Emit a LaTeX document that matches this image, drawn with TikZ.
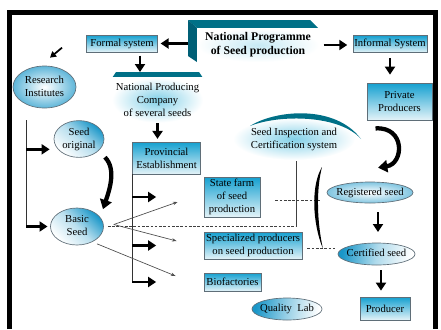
\documentclass[tikz,border=0pt]{standalone}
\usepackage{fontspec}
\setmainfont{Liberation Serif}
\usetikzlibrary{arrows.meta,shapes.geometric,calc}

\definecolor{boxtop}{RGB}{20,160,208}
\definecolor{boxbot}{RGB}{228,243,248}
\definecolor{ovalcol}{RGB}{25,150,200}
\definecolor{darkteal}{RGB}{0,112,135}
\definecolor{sideteal}{RGB}{0,95,118}
\definecolor{edgegray}{RGB}{95,110,120}
\definecolor{glowcol}{RGB}{130,208,232}

\newcommand{\ovtxt}[1]{\makebox[0pt]{\begin{tabular}{@{}c@{}}#1\end{tabular}}}

\tikzset{every picture/.style={line width=0.75pt}}
\tikzset{
  box/.style={draw=edgegray, line width=0.6pt, top color=boxtop, bottom color=boxbot,
    inner sep=0pt, align=center, font=\fontsize{8}{9.75}\selectfont},
  oval/.style={ellipse, draw=edgegray, line width=0.5pt, inner color=white, outer color=ovalcol!70,
    inner sep=0pt, font=\fontsize{8}{9.75}\selectfont},
  ovaltilt/.style={top color=ovalcol, bottom color=white, middle color=ovalcol!30, shading angle=#1},
  glow/.style={inner sep=0pt, inner color=glowcol, outer color=white, align=center,
    font=\fontsize{8}{9.75}\selectfont},
  bigarrow/.style={line width=1.9pt, -{Triangle[length=6pt,width=7.5pt]}},
  swirl/.style={line width=3.2pt, -{Triangle[length=7pt,width=9pt]}},
  thinarrow/.style={draw=black!70, line width=0.5pt, -{Stealth[length=3.5pt,width=2.5pt]}},
  dashline/.style={dash pattern=on 2pt off 1.2pt, line width=0.7pt, draw=black!75},
}

\begin{document}
\begin{tikzpicture}[x=0.75pt,y=0.75pt,yscale=-1,xscale=1]
\useasboundingbox (0,0) rectangle (441,329);

%Frame
\draw [line width=3.5pt] (9.5,329) -- (9.5,12.5) -- (435.5,12.5) -- (435.5,329) ;

%Shape: Box 3D [National Programme]
\fill [darkteal] (188,20) -- (310,20) -- (318,28) -- (197,28) -- cycle ;
\fill [sideteal] (188,20) -- (197,28) -- (197,62) -- (188,56) -- cycle ;
\coordinate (npside) at (188,45) ;
% Text Node
\node [glow, inner color=glowcol!45, minimum width=91.5pt, minimum height=25.5pt,
  font=\bfseries\fontsize{8.8}{10.5}\selectfont] (natprog) at (258,45) {National Programme\\of Seed production};

%Shape: Rectangle
\node [box, minimum width=53.25pt, minimum height=12.75pt] (formal) at (122,43.5) {Formal system};
\node [box, minimum width=55.5pt, minimum height=12.75pt] (informal) at (390,44) {Informal System};
\node [box, minimum width=48.75pt, minimum height=27.75pt] (private) at (399.5,101.5) {Private\\Producers};

%Shape: Ellipse
\node [oval, minimum width=47.25pt, minimum height=31.5pt] (research) at (44.5,87) {\ovtxt{Research\\Institutes}};

%Shape: Trapezium [National Producing Company]
\fill [darkteal] (112,78) -- (116,72) -- (199,72) -- (203,78) -- cycle ;
\coordinate (npctop) at (157.5,72) ;
% Text Node
\node [glow, minimum width=68.25pt, minimum height=33.75pt] (npc) at (157.5,100) {National Producing\\Company\\of several seeds};

\node [box, minimum width=51pt, minimum height=24pt] (provincial) at (166.5,158) {Provincial\\Establishment};

\node [oval, ovaltilt=-40, minimum width=37.5pt, minimum height=27pt] (seedorig) at (79,139) {\ovtxt{Seed\\original}};
\node [oval, ovaltilt=-45, minimum width=39.75pt, minimum height=27.75pt] (basic) at (77,226.5) {\ovtxt{Basic\\Seed}};

%Seed Inspection
\node [glow, ellipse, minimum width=91.5pt, minimum height=31.5pt] (sic) at (294,139) {\ovtxt{Seed Inspection and\\Certification system}};
\fill [darkteal] (250,126) .. controls (275,110) and (335,104) .. (361,139) .. controls (340,115) and (280,114) .. (250,126) -- cycle ;

\node [box, minimum width=42pt, minimum height=30pt] (statefarm) at (232,197) {State farm\\of seed\\production};
\node [box, minimum width=73.5pt, minimum height=20.25pt] (special) at (253,245.5) {Specialized producers\\on seed production};
\node [box, minimum width=42.75pt, minimum height=13.5pt] (biofact) at (232.5,282) {Biofactories};

\node [oval, outer color=ovalcol!55, minimum width=64.5pt, minimum height=15.75pt] (registered) at (370,192.5) {\ovtxt{Registered seed}};
\node [oval, ovaltilt=80, middle color=ovalcol!35, minimum width=57.75pt, minimum height=16.5pt] (certified) at (376.5,254) {\ovtxt{Certified seed}};
\node [oval, ovaltilt=80, middle color=ovalcol!45, minimum width=52.5pt, minimum height=16.5pt] (quality) at (287,309) {\ovtxt{Quality\ \ Lab}};
\node [box, minimum width=37.5pt, minimum height=17.25pt] (producer) at (385,308.5) {Producer};

%Straight Lines [top level]
\draw [bigarrow, shorten >=2pt] (formal.east -| npside) -- (formal.east) ;
\draw [bigarrow, shorten <=3pt, shorten >=4pt] (natprog.east) -- (natprog.east -| informal.west) ;
\coordinate (fdrop) at ($(formal.south)+(18,0)$) ;
\draw [bigarrow, shorten <=2.5pt] (fdrop) -- (fdrop |- npctop) ;
\draw [bigarrow, shorten >=2pt] (npc.south) -- (npc.south |- provincial.north) ;
\draw [bigarrow, shorten <=4pt, shorten >=6pt] (informal.south) -- (informal.south |- private.north) ;
\draw [line width=1.3pt, -{Triangle[length=4.5pt,width=5pt]}] ($(research.north)+(17.5,-18)$) -- ($(research.north)+(5.5,-8)$) ;

%Straight Lines [left bus]
\coordinate (bustop) at ($(research.south)+(-18.5,12)$) ;
\coordinate (busmid) at ($(bustop)+(0,29)$) ;
\draw [draw=black!80] (bustop) -- (bustop |- basic.west) ;
\draw [bigarrow, shorten >=3pt] (busmid) -- (busmid -| seedorig.west) ;
\draw [bigarrow, shorten >=2pt] (bustop |- basic.west) -- (basic.west) ;

%Curve Lines
\draw [swirl] ($(seedorig.south east)+(8,5)$) .. controls +(12,12) and +(6,-18) .. ($(basic.north east)+(7,-4)$) ;
\draw [swirl] ($(private.south)+(-24,8)$) .. controls +(30,-2) and +(26,-4) .. ($(registered.north)+(8,-14)$) ;

%Straight Lines [provincial bus]
\draw [draw=black!80] (provincial.south west) -- (provincial.south west |- biofact.center) ;
\coordinate (pv1) at (provincial.south west |- statefarm.west) ;
\coordinate (pv2) at (provincial.south west |- special.west) ;
\coordinate (pv3) at (provincial.south west |- biofact.west) ;
\draw [bigarrow] (pv1) -- ($(pv1)+(24,0)$) ;
\draw [bigarrow] (pv2) -- ($(pv2)+(24,0)$) ;
\draw [bigarrow] (pv3) -- ($(pv3)+(24,0)$) ;

%Thin arrows from Basic Seed
\draw [thinarrow] ($(basic.east)+(10,-2)$) -- ($(statefarm.west)+(-26,5)$) ;
\draw [thinarrow] ($(basic.east)+(10,-2)$) -- ($(special.west)+(-27,-4.5)$) ;
\draw [thinarrow] ($(basic.south east)+(1,4)$) -- ($(biofact.west)+(-28,-6)$) ;

%Dashed Lines
\coordinate (sicx) at (296,0) ;
\coordinate (sicfoot) at (basic.east -| sicx) ;
\draw [dashline] ($(basic.east)+(4,0)$) -- (sicfoot) ;
\draw [draw=black!75, line width=0.6pt] (sicfoot) -- (sicfoot |- sic.south) ;
\draw [dashline] ($(statefarm.east)+(15,3)$) -- ++(45,0) ;
\draw [dashline] ($(special.east)+(5,2.5)$) -- ++(28,0) ;

%Bracket
\fill (322,167) .. controls (311,185) and (312,222) .. (323,249) .. controls (317,222) and (316,190) .. (322,167) -- cycle ;

%Straight Lines [right column]
\coordinate (rc) at ($(registered.south)+(8,0)$) ;
\draw [bigarrow, shorten <=6.5pt, shorten >=8pt] (rc) -- (rc |- certified.north) ;
\coordinate (cp) at ($(certified.south)+(4.5,0)$) ;
\draw [bigarrow, shorten <=3.5pt, shorten >=4.5pt] (cp) -- (cp |- producer.north) ;

\end{tikzpicture}
\end{document}
